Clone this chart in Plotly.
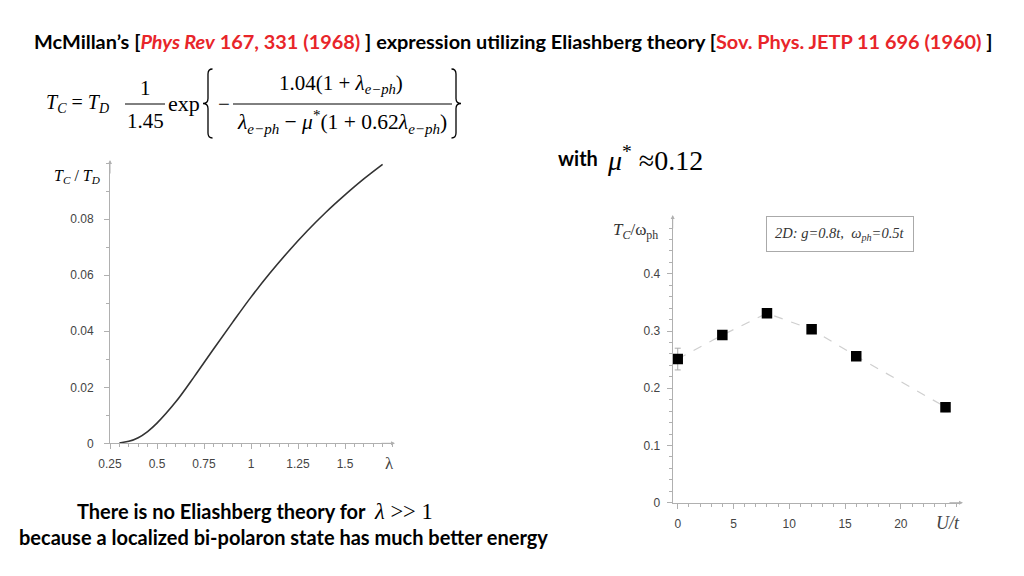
import plotly.graph_objects as go

# ---- data ----
lam = [0.30, 0.35, 0.40, 0.45, 0.50, 0.60, 0.70, 0.80, 0.90, 1.00,
       1.10, 1.20, 1.30, 1.40, 1.50, 1.60, 1.70]
tc_td = [0.0001, 0.0007, 0.0020, 0.0042, 0.0072, 0.0148, 0.0240, 0.0336, 0.0430, 0.0522,
         0.0607, 0.0686, 0.0759, 0.0826, 0.0887, 0.0944, 0.0996]

u_t = [0, 4, 8, 12, 16, 24]
tc_wph = [0.251, 0.293, 0.331, 0.303, 0.256, 0.167]
tc_err = [0.019, 0.005, 0.005, 0.005, 0.005, 0.008]

left_yticks = [0, 0.02, 0.04, 0.06, 0.08]
left_ylabels = ["0", "0.02", "0.04", "0.06", "0.08"]
left_xticks = [0.25, 0.5, 0.75, 1, 1.25, 1.5]
left_xlabels = ["0.25", "0.5", "0.75", "1", "1.25", "1.5"]
right_yticks = [0, 0.1, 0.2, 0.3, 0.4]
right_ylabels = ["0", "0.1", "0.2", "0.3", "0.4"]
right_xticks = [0, 5, 10, 15, 20]
right_xlabels = ["0", "5", "10", "15", "20"]

W, H = 1024, 576
DX, DY = -8, -8   # compensation for page offset
def px(x):
    return (x + DX) / W
def py(y):
    return 1 - (y + DY) / H

AX = "#b0b0b0"
TICKF = dict(family="Liberation Sans, Arial", size=12, color="#444444")
SERIF = "Liberation Serif, Times New Roman"
BOLD = "Lato, Open Sans, sans-serif"

fig = go.Figure()

fig.add_trace(go.Scatter(x=lam, y=tc_td, mode="lines", line=dict(color="#333333", width=1.6, shape="spline"),
                         xaxis="x", yaxis="y", showlegend=False, hoverinfo="skip"))
fig.add_trace(go.Scatter(x=u_t, y=tc_wph, mode="lines", line=dict(color="#cfcfcf", width=1.2, dash="dash"),
                         xaxis="x2", yaxis="y2", showlegend=False, hoverinfo="skip"))
fig.add_trace(go.Scatter(x=u_t, y=tc_wph, mode="markers",
                         marker=dict(symbol="square", size=10.5, color="black"),
                         error_y=dict(type="data", array=tc_err, color="#aaaaaa", thickness=1, width=3),
                         xaxis="x2", yaxis="y2", showlegend=False, hoverinfo="skip"))

axis_common = dict(showgrid=False, zeroline=False, showline=True, linecolor=AX, linewidth=1,
                   ticks="outside", tickcolor=AX, ticklen=5, tickfont=TICKF, automargin=False)

fig.update_layout(
    width=W, height=H, margin=dict(l=0, r=0, t=0, b=0, autoexpand=False),
    paper_bgcolor="white", plot_bgcolor="white", showlegend=False,
    xaxis=dict(domain=[px(110), px(392)], range=[0.25, 1.75], anchor="y",
               tickvals=left_xticks, ticktext=left_xlabels,
               minor=dict(ticks="outside", dtick=0.05, ticklen=3, tickcolor=AX), ticklabelstandoff=4,
               **axis_common),
    yaxis=dict(domain=[py(443.3), py(163)], range=[0, 0.1001], anchor="x",
               tickvals=left_yticks, ticktext=left_ylabels,
               minor=dict(ticks="outside", dtick=0.01, ticklen=3, tickcolor=AX), ticklabelstandoff=8,
               **axis_common),
    xaxis2=dict(domain=[px(672.7), px(960)], range=[-0.45, 25.3], anchor="y2",
                tickvals=right_xticks, ticktext=right_xlabels,
                minor=dict(ticks="outside", dtick=1, ticklen=3, tickcolor=AX), ticklabelstandoff=5,
                **axis_common),
    yaxis2=dict(domain=[py(502.7), py(218.3)], range=[0, 0.497], anchor="x2",
                tickvals=right_yticks, ticktext=right_ylabels,
                minor=dict(ticks="outside", dtick=0.02, ticklen=3, tickcolor=AX), ticklabelstandoff=4,
                **axis_common),
)

ann = []
def text(x, y, s, size=16, family=SERIF, color="black", xanchor="left", yanchor="middle", **kw):
    ann.append(dict(x=px(x), y=py(y), xref="paper", yref="paper", text=s, showarrow=False,
                    font=dict(family=family, size=size, color=color), xanchor=xanchor, yanchor=yanchor,
                    borderpad=0, **kw))

RED = "#e8252a"
title = ("<b>McMillan’s [<span style='color:%s'><i>Phys Rev</i> 167, 331 (1968)</span> ] expression utilizing "
         "Eliashberg theory [<span style='color:%s'>Sov. Phys. JETP 11 696 (1960)</span> ]</b>") % (RED, RED)
text(513, 41, title, size=19.9, family=BOLD, xanchor="center")

# formula
text(45, 104, "<i>T</i><sub><i>C</i></sub> = <i>T</i><sub><i>D</i></sub>", size=20)
text(145, 88, "1", size=21, xanchor="center")
text(145, 121, "1.45", size=21, xanchor="center")
text(167, 104, "exp", size=22)
text(217, 104, "−", size=21)
text(341, 84, "1.04(1 + <i>λ</i><sub><i>e−ph</i></sub>)", size=21, xanchor="center")
text(342, 122, "<i>λ</i><sub><i>e−ph</i></sub> − <i>μ</i><sup>*</sup>(1 + 0.62<i>λ</i><sub><i>e−ph</i></sub>)", size=21.5, xanchor="center")

text(557, 158, "<b>with</b>", size=20, family=BOLD)
text(606, 158, "<i>μ</i><sup>*</sup> ≈0.12", size=28)

# axis titles
text(53, 176, "<i>T</i><sub><i>C</i></sub> / <i>T</i><sub><i>D</i></sub>", size=16)
text(384, 463, "λ", size=17, color="#444444")
text(612, 231, "<i>T</i><sub><i>C</i></sub>/ω<sub>ph</sub>", size=17, color="#333333")
text(935, 523, "<i>U/t</i>", size=18, color="#444444")

# legend-like box
ann.append(dict(x=px(840), y=py(234), xref="paper", yref="paper",
                text="<i>2D: g=0.8t,  ω<sub>ph</sub>=0.5t</i>", showarrow=False,
                font=dict(family=SERIF, size=14.5, color="#333333"), xanchor="center", yanchor="middle",
                bordercolor="#aaaaaa", borderwidth=1, borderpad=8, bgcolor="white"))

# bottom text
text(221, 511, "<b>There is no Eliashberg theory for</b>", size=20, family=BOLD, xanchor="center")
text(373, 511, "<i>λ</i> &gt;&gt; 1", size=22.5)
text(283, 537, "<b>because a localized bi-polaron state has much better energy</b>", size=20, family=BOLD, xanchor="center")

# axis arrows
for (x0, y0, x1, y1) in [(110, 175, 110, 160), (380, 443.3, 395, 443.3),
                         (672.7, 230, 672.7, 215), (948, 502.7, 963, 502.7)]:
    ann.append(dict(x=px(x1), y=py(y1), ax=x0 - x1, ay=y0 - y1, xref="paper", yref="paper",
                    axref="pixel", ayref="pixel", showarrow=True, arrowhead=2, arrowsize=0.8,
                    arrowwidth=1, arrowcolor=AX, text=""))

fig.update_layout(annotations=ann)

def P(x, y):
    return "%.5f,%.5f" % (px(x), py(y))

def brace(xt, xb, y0, y1):
    ym = (y0 + y1) / 2
    xe = xb + (xb - xt) * 0.9
    q = 5
    return ("M" + P(xe, y0) + " Q" + P(xb, y0) + " " + P(xb, y0 + q) +
            " L" + P(xb, ym - q) + " Q" + P(xb, ym) + " " + P(xt, ym) +
            " Q" + P(xb, ym) + " " + P(xb, ym + q) +
            " L" + P(xb, y1 - q) + " Q" + P(xb, y1) + " " + P(xe, y1))

shapes = [
    dict(type="line", xref="paper", yref="paper", x0=px(125), x1=px(165), y0=py(104), y1=py(104),
         line=dict(color="black", width=1)),
    dict(type="line", xref="paper", yref="paper", x0=px(233), x1=px(452), y0=py(104), y1=py(104),
         line=dict(color="black", width=1)),
    dict(type="path", xref="paper", yref="paper", path=brace(203, 208, 69, 138), line=dict(color="black", width=1.3)),
    dict(type="path", xref="paper", yref="paper", path=brace(461, 456, 69, 138), line=dict(color="black", width=1.3)),
]
fig.update_layout(shapes=shapes)

fig.write_html("out.html")
